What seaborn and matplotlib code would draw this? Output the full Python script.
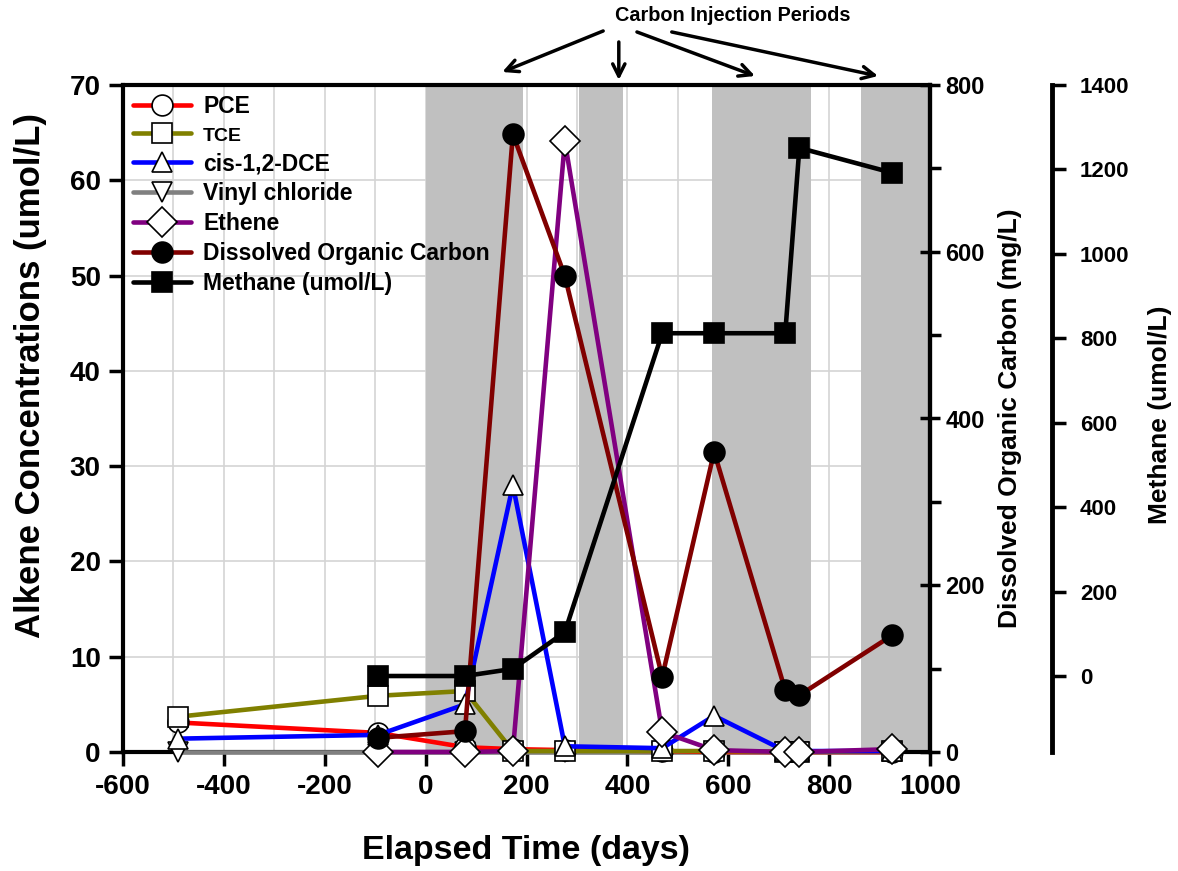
import numpy as np
import pandas as pd
import matplotlib
matplotlib.use("Agg")
import matplotlib.pyplot as plt
from matplotlib.lines import Line2D
import seaborn as sns

# ---------------- data ----------------
days = [-491, -94, 78, 173, 276, 469, 572, 713, 741, 925]
pce = [3.1, 2.0, 0.5, 0.3, 0.2, 0.1, 0.0, 0.0, 0.0, 0.0]
tce = [3.7, 5.9, 6.4, 0.1, 0.1, 0.1, 0.1, 0.0, 0.0, 0.1]
cis_dce = [1.4, 1.8, 5.0, 28.0, 0.6, 0.4, 3.8, 0.1, 0.1, 0.1]
vinyl_chloride = [0.0, 0.0, 0.0, 0.0, 0.0, 0.0, 0.0, 0.0, 0.0, 0.0]
days_later = [-94, 78, 173, 276, 469, 572, 713, 741, 925]
ethene = [0.0, 0.0, 0.1, 64.1, 2.1, 0.2, 0.0, 0.0, 0.3]
doc = [17, 25, 741, 571, 90, 360, 74, 68, 140]
methane = [0, 0, 17, 104, 812, 812, 812, 1251, 1192]
injection_periods = [(0, 193), (304, 391), (567, 765), (863, 1000)]
x_ticks = [-600, -400, -200, 0, 200, 400, 600, 800, 1000]

sns.set_theme(style="white")
plt.rcParams["font.family"] = ["Liberation Sans", "DejaVu Sans"]
plt.rcParams["font.weight"] = "bold"
plt.rcParams["axes.labelweight"] = "bold"
plt.rcParams["axes.unicode_minus"] = False
for k in ["text.color", "axes.labelcolor", "xtick.color", "ytick.color", "axes.edgecolor"]:
    plt.rcParams[k] = "black"

fig = plt.figure(figsize=(11.78, 8.71), dpi=100)
ax = fig.add_axes([123/1178, 1-752/871, 807/1178, 667/871])
ax2 = ax.twinx()
ax3 = ax.twinx()

ax.set_xlim(-600, 1000)
ax.set_ylim(0, 70)
ax2.set_ylim(0, 800)
ax3.set_ylim(-180, 1400)

# grid and shading
ax.set_xticks(x_ticks)
ax.set_xticks(np.arange(-600, 1001, 100), minor=True)
ax.set_yticks(np.arange(0, 71, 10))
ax.xaxis.grid(True, which="both", color="#d4d4d4", lw=1.2)
ax.yaxis.grid(True, which="major", color="#d4d4d4", lw=1.2)
ax.set_axisbelow(True)
for a, b in injection_periods:
    ax.axvspan(a, b, color="#c0c0c0", lw=0, zorder=0.8)

lw = 3.3
ms = 15
common = dict(lw=lw, markersize=ms, markeredgecolor="black", markeredgewidth=1.2)

def draw(axis, x, y, color, marker, mfc="white", z=3):
    df = pd.DataFrame({"x": x, "y": y})
    sns.lineplot(data=df, x="x", y="y", ax=axis, color=color, marker=marker,
                 markerfacecolor=mfc, sort=False, estimator=None, zorder=z,
                 legend=False, clip_on=False, **common)

draw(ax, days, vinyl_chloride, "#808080", "v")
draw(ax, days, pce, "#ff0000", "o")
draw(ax, days, tce, "#808000", "s")
draw(ax, days, cis_dce, "#0000ff", "^")
draw(ax, days_later, ethene, "#800080", "D")
draw(ax2, days_later, doc, "#800000", "o", mfc="black")
draw(ax3, days_later, methane, "black", "s", mfc="black")

for a_ in (ax, ax2, ax3):
    a_.set_xlabel("")
    a_.set_ylabel("")

# axes styling
for s in ["left", "bottom", "top", "right"]:
    ax.spines[s].set_linewidth(3)
    ax.spines[s].set_color("black")
    ax.spines[s].set_zorder(2)
ax2.spines["right"].set_linewidth(3)
ax2.spines["right"].set_color("black")
for s in ["left", "bottom", "top"]:
    ax2.spines[s].set_visible(False)
    ax3.spines[s].set_visible(False)
ax3.spines["right"].set_position(("axes", (1052-123)/807))
ax3.spines["right"].set_linewidth(3.5)
ax3.spines["right"].set_color("black")

ax.tick_params(axis="both", which="major", direction="out", length=10, width=2.5,
               labelsize=20, colors="black", bottom=True, left=True, pad=6)
ax.tick_params(axis="x", which="minor", length=0)
for t in ax.get_xticklabels() + ax.get_yticklabels():
    t.set_fontweight("bold")

ax2.set_yticks(np.arange(0, 801, 200))
ax2.set_yticks(np.arange(0, 801, 100), minor=True)
ax2.tick_params(axis="y", which="major", direction="inout", length=14, width=2.5,
                labelsize=17, right=True, pad=4)
ax2.tick_params(axis="y", which="minor", direction="out", length=8, width=2.5, right=True)
ax3.set_yticks(np.arange(0, 1401, 200))
ax3.tick_params(axis="y", which="major", direction="out", length=10, width=2.5,
                labelsize=16, right=True, pad=10)
for t in ax2.get_yticklabels() + ax3.get_yticklabels():
    t.set_fontweight("bold")

ax.set_xlabel("Elapsed Time (days)", fontsize=24.5, fontweight="bold")
ax.xaxis.label.set_va("center")
ax.xaxis.set_label_coords(0.5, -0.148)
ax.set_ylabel("Alkene Concentrations (umol/L)", fontsize=25, fontweight="bold")
ax.yaxis.label.set_va("center")
ax.yaxis.set_label_coords(-0.115, 0.565)
ax2.set_ylabel("Dissolved Organic Carbon (mg/L)", fontsize=19, fontweight="bold",
               rotation=90)
ax2.yaxis.label.set_va("center")
ax2.yaxis.set_label_coords(1.099, 0.5)
ax3.set_ylabel("Methane (umol/L)", fontsize=19, fontweight="bold", rotation=90)
ax3.yaxis.label.set_va("center")
ax3.yaxis.set_label_coords(1.285, 0.505)

# annotation
ax.text(609, 1.1035, "Carbon Injection Periods", transform=ax.get_xaxis_transform(),
        ha="center", va="center", fontsize=14.3, fontweight="bold")
arrows = [((352, 1.081), (152, 1.0195)), ((383, 1.0645), (383, 1.0075)),
          ((419, 1.0795), (653, 1.0135)), ((488, 1.0795), (897, 1.0135))]
for start, tip in arrows:
    ax.annotate("", xy=tip, xycoords=("data", "axes fraction"), xytext=start,
                textcoords=("data", "axes fraction"), annotation_clip=False,
                arrowprops=dict(arrowstyle="->", lw=2.5, color="black",
                                mutation_scale=22, shrinkA=0, shrinkB=0))

# legend
def h(color, marker, mfc="white"):
    return Line2D([0], [0], color=color, marker=marker, markerfacecolor=mfc, **common)

handles = [h("#ff0000", "o"), h("#808000", "s"), h("#0000ff", "^"), h("#808080", "v"),
           h("#800080", "D"), h("#800000", "o", "black"), h("black", "s", "black")]
labels = ["PCE", "TCE", "cis-1,2-DCE", "Vinyl chloride", "Ethene",
          "Dissolved Organic Carbon", "Methane (umol/L)"]
leg = ax3.legend(handles, labels, loc="upper left", bbox_to_anchor=(0.0, 1.0),
                 frameon=False, fontsize=16.5, handlelength=2.5, labelspacing=0.3,
                 borderaxespad=0.2, handletextpad=0.55, borderpad=0.25)
for t in leg.get_texts():
    t.set_fontweight("bold")
leg.get_texts()[1].set_fontsize(14)
leg.set_zorder(10)

fig.savefig("out.png", dpi=100)
